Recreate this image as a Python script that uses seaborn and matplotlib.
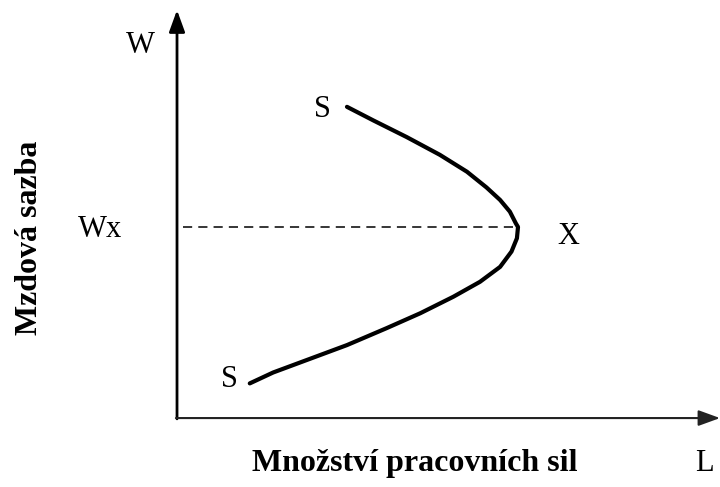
import numpy as np
import pandas as pd
import seaborn as sns
import matplotlib.pyplot as plt

# backward-bending labour supply curve (L, W)
labour = [3.13, 3.62, 4.23, 4.84, 5.34, 5.70, 5.95, 6.13, 6.24, 6.28,
          6.26, 6.16, 5.95, 5.58, 5.09, 4.48, 3.86, 3.13, 2.39, 1.77, 1.34]
wage = [7.72, 7.38, 6.97, 6.53, 6.11, 5.72, 5.41, 5.12, 4.83, 4.74,
        4.46, 4.13, 3.75, 3.38, 3.01, 2.60, 2.23, 1.81, 1.44, 1.13, 0.86]
wage_x = 4.74
labour_x = 6.26
axis_top = 10.12
axis_right = 10.0

sns.set_theme(style="white")
plt.rcParams["font.family"] = ["Liberation Serif", "DejaVu Serif"]
plt.rcParams["text.color"] = "black"

fig = plt.figure(figsize=(7.2, 4.87), dpi=100)
ax = fig.add_axes([0, 0, 1, 1])
ax.set_xlim(-3.26, 10.0)
ax.set_ylim(-1.71, 10.37)
ax.axis("off")

curve = pd.DataFrame({"L": labour, "W": wage})
sns.lineplot(data=curve, x="L", y="W", sort=False, estimator=None,
             color="black", lw=3, ax=ax, solid_joinstyle="round")

# dashed guide at Wx
ax.plot([0.11, labour_x], [wage_x, wage_x], color="black", lw=1.1,
        dashes=(6, 4))

# axes with arrows
ax.annotate("", xy=(0, axis_top), xytext=(0, -0.02),
            arrowprops=dict(arrowstyle="-|>,head_length=1.1,head_width=0.4",
                            lw=2, color="black", shrinkA=0, shrinkB=0))
ax.annotate("", xy=(axis_right, 0), xytext=(-0.02, 0),
            arrowprops=dict(arrowstyle="-|>,head_length=1.1,head_width=0.4",
                            lw=1.5, color="#222222", shrinkA=0, shrinkB=0))

fs = 22
ax.text(-0.68, 9.25, "W", fontsize=fs, ha="center", va="center")
ax.text(-1.42, 4.67, "Wx", fontsize=fs, ha="center", va="center")
ax.text(7.2, 4.51, "X", fontsize=fs, ha="center", va="center")
ax.text(2.68, 7.65, "S", fontsize=fs, ha="center", va="center")
ax.text(0.96, 0.95, "S", fontsize=fs, ha="center", va="center")
ax.text(9.72, -1.12, "L", fontsize=fs, ha="center", va="center")

ax.text(4.38, -1.12, "Množství pracovních sil", fontsize=23, fontweight="bold",
        ha="center", va="center")
ax.text(-2.72, 4.46, "Mzdová sazba", fontsize=23, fontweight="bold",
        rotation=90, ha="center", va="center")

fig.savefig("out.png", dpi=100)
